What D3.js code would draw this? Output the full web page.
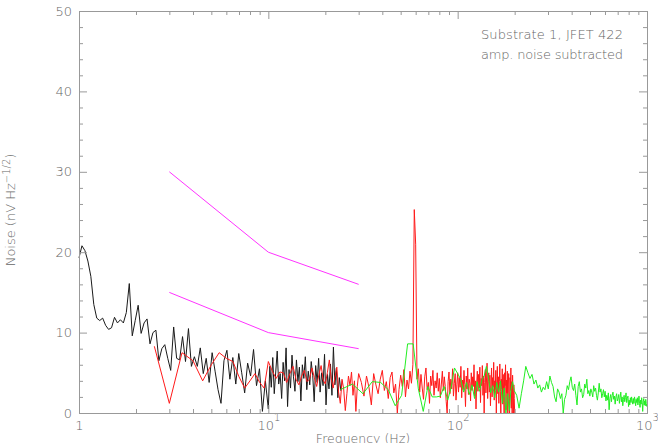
<!DOCTYPE html>
<html>
<head>
<meta charset="utf-8">
<script src="https://cdn.jsdelivr.net/npm/d3@7"></script>
<style>
    body { margin: 0; background: #fff; }
    text { font-family: "DejaVu Sans", sans-serif; font-weight: 200; fill: #666; }
</style>
</head>
<body>
<div id="chart"></div>
<script>
// axis ticks
const xMajorTicks = [1, 10, 100, 1000];
const xTickBases = ["1", "10", "10", "10"];
const xTickExponents = ["", "1", "2", "3"];
const xMinorTicks = [2, 3, 4, 5, 6, 7, 8, 9, 20, 30, 40, 50, 60, 70, 80, 90, 200, 300, 400, 500, 600, 700, 800, 900];
const yMajorTicks = [0, 10, 20, 30, 40, 50];
const yMinorTicks = [2, 4, 6, 8, 12, 14, 16, 18, 22, 24, 26, 28, 32, 34, 36, 38, 42, 44, 46, 48];

// black spectrum: log-spaced samples (points per decade), 1-10 Hz then 10-25 Hz
const blackLowPerDecade = 64;
const blackLow = [19.3, 20.8, 20.2, 18.9, 17.0, 13.5, 11.8, 11.5, 11.8, 10.9, 10.4, 10.6, 11.9, 11.2, 11.6, 11.2,
    12.5, 16.1, 9.6, 11.5, 13.4, 9.9, 11.2, 11.7, 8.6, 10.0, 10.3, 6.5, 8.0, 8.5, 6.8, 5.3, 10.7, 6.8, 6.6, 9.5,
    6.4, 10.5, 5.8, 7.0, 5.8, 8.1, 4.9, 6.8, 3.8, 7.5, 5.2, 2.9, 1.2, 6.5, 7.8, 4.2, 6.9, 3.6, 7.4, 5.0, 2.5,
    6.2, 4.6, 7.9, 3.4, 5.5, 0.2, 4.0];
const blackHighPerDecade = 128;
const blackHigh = [0.5, 5.8, 3.2, 6.9, 2.4, 5.1, 7.7, 3.6, 4.9, 1.8, 6.3, 4.0, 8.1, 0.8, 5.4, 3.1, 7.2, 4.5, 2.7,
    6.6, 3.9, 5.7, 1.5, 6.0, 4.3, 7.0, 2.9, 5.2, 3.5, 6.4, 4.7, 1.4, 5.9, 3.8, 6.8, 2.6, 5.0, 3.4, 7.3, 1.0, 4.8,
    3.0, 6.1, 2.2, 8.2, 3.5, 5.6, 1.9, 4.4, 2.8, 4.0];

// red spectrum: linear frequency samples
const redLowStart = 2.5, redLowStep = 0.5;
const redLow = [8.3, 1.2, 7.5, 6.5, 4.0, 6.0, 7.5, 6.8, 6.4, 4.5, 3.1, 4.0, 4.9, 3.8, 3.1, 6.4, 5.2, 4.3, 5.1, 5.0,
    3.8, 4.9, 5.8, 4.2, 3.5, 4.6, 5.3, 3.9, 4.2, 5.6, 4.4, 3.3, 4.8, 5.9, 4.1, 3.6, 5.0, 6.6, 4.2, 3.1,
    4.5, 5.7, 2.6, 1.2, 4.2, 3.0, 0.3, 2.4, 4.6, 3.4, 5.1, 2.2, 4.0, 0.2, 3.3, 4.9];
const redHighStart = 31, redHighStep = 1;
const redHigh = [3.8, 2.1, 4.6, 3.2, 1.0, 4.9, 3.5, 2.4, 4.2, 5.3, 2.8, 3.9, 1.8, 4.4, 5.1, 2.5, 3.6, 0.0, 2.9, 4.7,
    3.3, 5.4, 2.0, 4.1, 3.0, 5.2, 3.7, 6.0, 25.3, 21.0, 4.2, 5.5, 2.6, 4.8, 3.1, 1.7, 4.5, 5.6, 2.9, 3.8,
    1.2, 4.6, 3.4, 5.3, 2.2, 4.0, 3.1, 5.0, 2.7, 4.3, 1.9, 3.6, 5.2, 2.8, 4.5, 3.3, 1.4, 0.0, 3.9, 5.1,
    2.4, 4.2, 3.0, 5.5, 2.1, 3.7, 4.9, 1.6, 3.5, 5.0, 2.6, 4.4, 3.2, 5.8, 1.9, 4.1, 2.9, 5.3, 3.5, 0.8,
    4.6, 3.0, 5.6, 2.3, 4.2, 3.7, 1.5, 5.0, 2.8, 4.5, 3.3, 6.0, 2.1, 4.0, 0.5, 3.6, 5.2, 2.7, 4.8, 3.1,
    5.7, 1.3, 4.3, 3.4, 5.9, 2.2, 4.6, 0.0, 3.8, 5.4, 2.5, 4.1, 6.2, 1.8, 3.9, 5.0, 2.6, 4.7, 0.9, 3.5,
    5.6, 2.0, 4.4, 3.2, 6.3, 1.6, 4.0, 2.9, 5.3, 0.0, 3.7, 5.8, 2.4, 4.5, 1.2, 3.9, 6.1, 2.7, 0.0, 4.2,
    3.0, 5.5, 1.1, 4.8, 2.3, 0.0, 5.0, 3.4, 6.0, 0.4, 4.1, 2.5, 5.2, 0.0, 3.6, 4.9, 1.4, 0.0, 4.4, 2.8,
    5.6, 0.6, 3.9, 0.0, 4.7, 2.2, 0.0, 3.5, 1.8, 0.0];

// green spectrum: linear frequency samples
const greenLowStart = 24, greenLowStep = 3.8;
const greenLow = [2.9, 3.6, 2.4, 3.9, 3.8, 2.9, 0.9, 2.2, 8.6, 8.6, 3.0, 0.2, 3.3, 2.0, 2.0, 2.1, 3.3, 1.6, 3.2, 5.6,
    4.9, 4.2, 2.6, 3.8, 2.3, 3.5, 1.8, 3.9, 2.7, 4.1, 4.6, 5.8, 4.3, 2.5, 3.4, 1.9, 3.8, 2.6, 4.0, 1.2,
    3.1, 0.0, 2.4, 0.3, 2.9, 3.9, 2.8];
const greenHighStart = 205, greenHighStep = 6;
const greenHigh = [2.2, 0.6, 2.4, 4.0, 5.8, 5.0, 4.3, 4.8, 3.6, 4.1, 3.1, 3.5, 2.6, 3.2, 2.9, 3.9, 3.0, 4.6, 3.8, 3.3,
    2.0, 1.4, 3.0, 2.6, 1.8, 2.4, 0.0, 1.7, 2.2, 3.4, 2.9, 3.9, 4.5, 3.2, 2.8, 3.6, 2.2, 1.0, 3.3, 3.9,
    2.6, 3.0, 1.9, 2.3, 3.6, 3.1, 4.2, 2.4, 2.8, 2.1, 3.0, 2.6, 2.0, 3.4, 2.7, 3.1, 2.2, 1.6, 2.5, 3.7,
    2.6, 3.0, 1.9, 2.4, 2.9, 2.0, 2.7, 1.5, 2.2, 1.6, 2.5, 0.4, 1.8, 2.3, 1.4, 2.2, 2.6, 1.7, 2.1, 1.1,
    2.0, 2.4, 1.5, 1.8, 2.3, 1.2, 1.9, 2.6, 1.4, 2.0, 0.9, 1.7, 2.2, 1.4, 1.9, 2.5, 1.3, 1.8, 2.1, 0.8,
    1.6, 1.0, 1.9, 1.3, 2.0, 1.5, 1.1, 1.8, 1.2, 2.0, 1.6, 0.9, 1.7, 1.3, 1.9, 1.0, 1.5, 2.1, 1.2, 0.7,
    1.6, 1.1, 1.9, 1.3, 0.2, 1.4, 1.8, 1.0, 1.5, 0.9, 1.7, 1.2, 0.8];

// magenta reference lines
const refFreqs = [3, 10, 30];
const refUpper = [30, 20, 16];
const refLower = [15, 10, 8];

const annotations = ["Substrate 1, JFET 422", "amp. noise subtracted"];

const width = 658, height = 443;
const margin = { top: 11, right: 11, bottom: 30, left: 79 };
const plotLeft = margin.left, plotRight = width - margin.right;
const plotTop = margin.top, plotBottom = height - margin.bottom;
const axisColor = "#999";

const svg = d3.select("#chart").append("svg")
    .attr("width", width)
    .attr("height", height)
    .style("display", "block");

const x = d3.scaleLog().domain([1, 1000]).range([plotLeft, plotRight]);
const y = d3.scaleLinear().domain([0, 50]).range([plotBottom, plotTop]);

const linear = (start, step, values) => values.map((v, i) => [start + i * step, v]);
const blackData = blackLow.map((v, i) => [Math.pow(10, i / blackLowPerDecade), v])
    .concat(blackHigh.map((v, i) => [10 * Math.pow(10, i / blackHighPerDecade), v]));
const redData = linear(redLowStart, redLowStep, redLow).concat(linear(redHighStart, redHighStep, redHigh));
const greenData = linear(greenLowStart, greenLowStep, greenLow).concat(linear(greenHighStart, greenHighStep, greenHigh));

const line = d3.line().x((d) => x(d[0])).y((d) => y(d[1]));

const series = [
    { data: blackData, color: "#1a1a1a" },
    { data: redData, color: "#ff1a1a" },
    { data: greenData, color: "#22ee22" },
    { data: refFreqs.map((f, i) => [f, refUpper[i]]), color: "#ff33ff" },
    { data: refFreqs.map((f, i) => [f, refLower[i]]), color: "#ff33ff" },
];

series.forEach((s) => {
    svg.append("path")
        .datum(s.data)
        .attr("fill", "none")
        .attr("stroke", s.color)
        .attr("stroke-width", 1)
        .attr("stroke-linejoin", "round")
        .attr("d", line);
});

// axes: inward ticks on all four sides
function styleAxis(g) {
    g.select(".domain").remove();
    g.selectAll(".tick line").attr("stroke", axisColor);
}

const axes = [
    { gen: d3.axisBottom(x), pos: `translate(0,${plotBottom})`, minor: xMinorTicks },
    { gen: d3.axisTop(x), pos: `translate(0,${plotTop})`, minor: xMinorTicks },
    { gen: d3.axisLeft(y), pos: `translate(${plotLeft},0)`, minor: yMinorTicks },
    { gen: d3.axisRight(y), pos: `translate(${plotRight},0)`, minor: yMinorTicks },
];

axes.forEach((a) => {
    svg.append("g").attr("transform", a.pos)
        .call(a.gen.tickValues(a.minor).tickSize(-4).tickFormat(""))
        .call(styleAxis);
});

// major ticks, labels on bottom and left
svg.append("g").attr("transform", `translate(0,${plotBottom})`)
    .call(d3.axisBottom(x).tickValues(xMajorTicks).tickSize(-8).tickPadding(8).tickFormat(""))
    .call(styleAxis)
    .call((g) => g.selectAll(".tick text").each(function (d, i) {
        const t = d3.select(this).attr("font-size", 13).attr("fill", "#666");
        t.text(xTickBases[i]);
        if (xTickExponents[i]) {
            t.append("tspan").attr("font-size", 10).attr("dy", -9).text(xTickExponents[i]);
        }
    }));
svg.append("g").attr("transform", `translate(0,${plotTop})`)
    .call(d3.axisTop(x).tickValues(xMajorTicks).tickSize(-8).tickFormat(""))
    .call(styleAxis);
svg.append("g").attr("transform", `translate(${plotLeft},0)`)
    .call(d3.axisLeft(y).tickValues(yMajorTicks).tickSize(-8).tickPadding(7))
    .call(styleAxis)
    .call((g) => g.selectAll(".tick text").attr("font-size", 13).attr("fill", "#666"));
svg.append("g").attr("transform", `translate(${plotRight},0)`)
    .call(d3.axisRight(y).tickValues(yMajorTicks).tickSize(-8).tickFormat(""))
    .call(styleAxis);

// frame
svg.append("rect")
    .attr("x", plotLeft + 0.5).attr("y", plotTop + 0.5)
    .attr("width", plotRight - plotLeft).attr("height", plotBottom - plotTop)
    .attr("fill", "none").attr("stroke", axisColor);

// axis titles (the reference crops the x title at the bottom edge)
svg.append("text")
    .attr("x", (plotLeft + plotRight) / 2).attr("y", 443)
    .attr("text-anchor", "middle").attr("font-size", 12.5)
    .text("Frequency (Hz)");

const yTitle = svg.append("text")
    .attr("transform", `translate(15,${(plotTop + plotBottom) / 2 - 2}) rotate(-90)`)
    .attr("text-anchor", "middle").attr("font-size", 13);
yTitle.append("tspan").text("Noise (nV Hz");
yTitle.append("tspan").attr("font-size", 10).attr("dy", -5).text("\u22121/2");
yTitle.append("tspan").attr("dy", 5).text(")");

// annotation
annotations.forEach((a, i) => {
    svg.append("text")
        .attr("x", 481).attr("y", 39 + i * 20)
        .attr("font-size", 13)
        .attr("textLength", 142)
        .attr("lengthAdjust", "spacing")
        .text(a);
});
</script>
</body>
</html>
